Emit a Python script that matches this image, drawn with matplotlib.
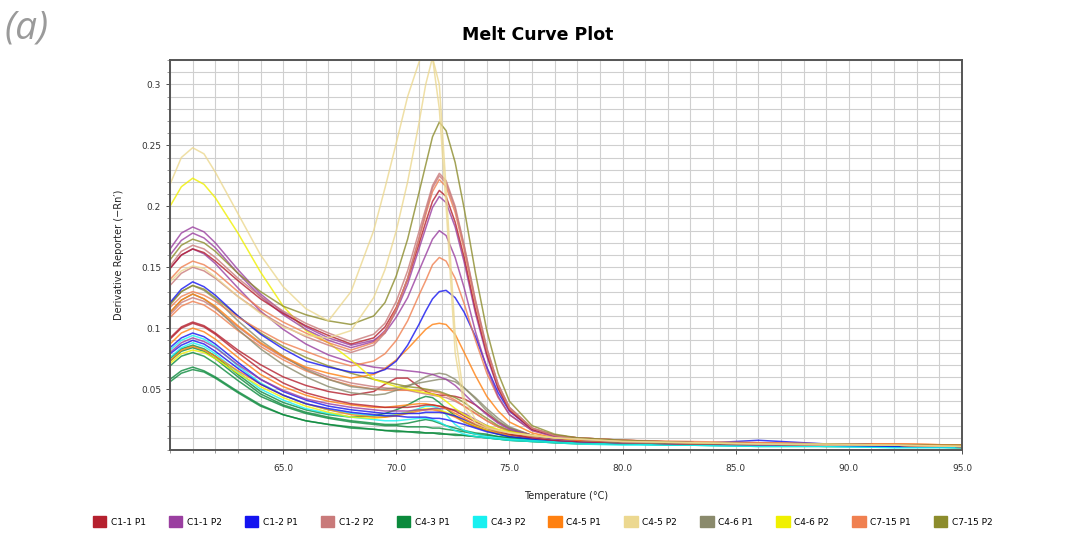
import matplotlib
matplotlib.use("Agg")
from matplotlib import pyplot as plt
from matplotlib.patches import Patch
from matplotlib.ticker import MultipleLocator, FixedLocator

temps = [60.0, 60.5, 61.0, 61.5, 62.0, 63.0, 64.0, 65.0, 66.0, 67.0, 68.0,
         69.0, 69.5, 70.0, 70.5, 71.0, 71.3, 71.6, 71.9, 72.2, 72.6, 73.0,
         73.5, 74.0, 74.5, 75.0, 76.0, 77.0, 78.0,
         80.0, 83.0, 86.0, 89.0, 92.0, 95.0]

samples = ["C1-1 P1", "C1-1 P2", "C1-2 P1", "C1-2 P2", "C4-3 P1", "C4-3 P2",
           "C4-5 P1", "C4-5 P2", "C4-6 P1", "C4-6 P2", "C7-15 P1", "C7-15 P2"]
sample_colors = ["#b5202e", "#9a3fa0", "#1414f0", "#c97a7a", "#0b8a3c", "#18f0f0",
                 "#ff8010", "#ecd890", "#8a8a6c", "#f0f000", "#f08050", "#8c8c2c"]

# melt curves, one list per well
k1 = [0.218, 0.240, 0.248, 0.243, 0.228, 0.194, 0.160, 0.134, 0.116, 0.106, 0.130,
      0.180, 0.215, 0.252, 0.290, 0.318, 0.332, 0.322, 0.280, 0.200, 0.080, 0.035,
      0.022, 0.018, 0.016, 0.014, 0.012, 0.010, 0.009,
      0.007, 0.006, 0.005, 0.005, 0.004, 0.003]
k2 = [0.138, 0.147, 0.151, 0.149, 0.142, 0.126, 0.112, 0.101, 0.094, 0.092, 0.098,
      0.125, 0.148, 0.180, 0.220, 0.268, 0.300, 0.322, 0.300, 0.215, 0.095, 0.042,
      0.025, 0.019, 0.016, 0.014, 0.012, 0.010, 0.009,
      0.007, 0.006, 0.005, 0.004, 0.004, 0.003]
y1 = [0.200, 0.216, 0.223, 0.218, 0.207, 0.178, 0.146, 0.118, 0.098, 0.088, 0.074,
      0.058, 0.055, 0.052, 0.050, 0.048, 0.047, 0.046, 0.044, 0.040, 0.034, 0.029,
      0.024, 0.020, 0.017, 0.015, 0.012, 0.010, 0.009,
      0.007, 0.006, 0.005, 0.005, 0.004, 0.003]
y2 = [0.071, 0.079, 0.082, 0.080, 0.075, 0.063, 0.052, 0.043, 0.036, 0.031, 0.027,
      0.026, 0.027, 0.029, 0.031, 0.033, 0.034, 0.034, 0.033, 0.031, 0.028, 0.024,
      0.020, 0.017, 0.014, 0.012, 0.010, 0.008, 0.007,
      0.006, 0.005, 0.005, 0.004, 0.004, 0.003]
o1 = [0.156, 0.168, 0.173, 0.170, 0.163, 0.145, 0.130, 0.118, 0.111, 0.106, 0.103,
      0.110, 0.121, 0.143, 0.173, 0.211, 0.234, 0.257, 0.269, 0.262, 0.236, 0.198,
      0.145, 0.098, 0.063, 0.040, 0.020, 0.013, 0.010,
      0.008, 0.006, 0.005, 0.005, 0.004, 0.004]
o2 = [0.120, 0.130, 0.135, 0.132, 0.125, 0.110, 0.096, 0.085, 0.076, 0.069, 0.063,
      0.058, 0.056, 0.054, 0.052, 0.051, 0.050, 0.049, 0.048, 0.046, 0.043, 0.039,
      0.032, 0.026, 0.020, 0.016, 0.012, 0.010, 0.008,
      0.007, 0.006, 0.005, 0.005, 0.004, 0.003]
r1 = [0.151, 0.163, 0.168, 0.165, 0.158, 0.141, 0.126, 0.114, 0.104, 0.096, 0.089,
      0.095, 0.104, 0.122, 0.147, 0.179, 0.198, 0.217, 0.227, 0.221, 0.200, 0.168,
      0.123, 0.084, 0.054, 0.035, 0.018, 0.012, 0.010,
      0.008, 0.006, 0.005, 0.005, 0.004, 0.003]
r4 = [0.135, 0.145, 0.150, 0.147, 0.141, 0.126, 0.113, 0.102, 0.093, 0.086, 0.080,
      0.086, 0.096, 0.115, 0.141, 0.174, 0.195, 0.215, 0.225, 0.219, 0.198, 0.167,
      0.122, 0.083, 0.054, 0.035, 0.018, 0.012, 0.010,
      0.008, 0.006, 0.005, 0.005, 0.004, 0.003]
r5 = [0.111, 0.121, 0.125, 0.122, 0.116, 0.101, 0.087, 0.076, 0.067, 0.060, 0.055,
      0.052, 0.051, 0.050, 0.049, 0.047, 0.046, 0.045, 0.044, 0.043, 0.040, 0.036,
      0.030, 0.024, 0.019, 0.015, 0.011, 0.009, 0.008,
      0.007, 0.006, 0.005, 0.005, 0.004, 0.003]
s1 = [0.117, 0.126, 0.130, 0.127, 0.122, 0.109, 0.098, 0.088, 0.081, 0.074, 0.069,
      0.073, 0.079, 0.090, 0.106, 0.127, 0.139, 0.152, 0.158, 0.155, 0.141, 0.120,
      0.090, 0.063, 0.043, 0.029, 0.016, 0.011, 0.009,
      0.007, 0.006, 0.005, 0.005, 0.004, 0.003]
s2 = [0.140, 0.150, 0.155, 0.152, 0.146, 0.130, 0.116, 0.105, 0.096, 0.088, 0.082,
      0.088, 0.097, 0.116, 0.141, 0.173, 0.193, 0.212, 0.222, 0.216, 0.195, 0.164,
      0.120, 0.082, 0.053, 0.034, 0.018, 0.012, 0.010,
      0.008, 0.006, 0.006, 0.005, 0.004, 0.004]
s3 = [0.109, 0.118, 0.122, 0.119, 0.113, 0.098, 0.085, 0.074, 0.065, 0.058, 0.053,
      0.050, 0.049, 0.049, 0.049, 0.049, 0.049, 0.048, 0.047, 0.045, 0.041, 0.036,
      0.030, 0.024, 0.019, 0.016, 0.012, 0.010, 0.009,
      0.008, 0.007, 0.006, 0.005, 0.005, 0.004]
d1 = [0.149, 0.160, 0.165, 0.162, 0.155, 0.139, 0.124, 0.112, 0.102, 0.094, 0.087,
      0.092, 0.101, 0.117, 0.140, 0.169, 0.187, 0.204, 0.213, 0.208, 0.187, 0.158,
      0.115, 0.079, 0.051, 0.033, 0.017, 0.012, 0.010,
      0.008, 0.006, 0.005, 0.005, 0.004, 0.003]
d2 = [0.092, 0.101, 0.105, 0.102, 0.096, 0.082, 0.070, 0.060, 0.053, 0.048, 0.045,
      0.048, 0.054, 0.059, 0.059, 0.052, 0.048, 0.046, 0.045, 0.045, 0.044, 0.042,
      0.037, 0.030, 0.023, 0.018, 0.012, 0.009, 0.008,
      0.007, 0.005, 0.005, 0.004, 0.004, 0.003]
d3 = [0.091, 0.100, 0.104, 0.101, 0.095, 0.080, 0.066, 0.055, 0.047, 0.042, 0.038,
      0.036, 0.035, 0.035, 0.035, 0.036, 0.037, 0.037, 0.036, 0.035, 0.032, 0.028,
      0.023, 0.019, 0.016, 0.013, 0.010, 0.008, 0.007,
      0.006, 0.005, 0.005, 0.004, 0.004, 0.003]
p1 = [0.165, 0.178, 0.183, 0.179, 0.170, 0.148, 0.128, 0.113, 0.101, 0.092, 0.086,
      0.090, 0.096, 0.109, 0.125, 0.147, 0.160, 0.173, 0.180, 0.176, 0.158, 0.133,
      0.097, 0.067, 0.044, 0.029, 0.016, 0.011, 0.009,
      0.007, 0.006, 0.005, 0.004, 0.004, 0.003]
p2 = [0.160, 0.172, 0.178, 0.174, 0.166, 0.145, 0.126, 0.111, 0.099, 0.090, 0.084,
      0.089, 0.098, 0.114, 0.136, 0.165, 0.182, 0.199, 0.208, 0.203, 0.183, 0.154,
      0.112, 0.077, 0.050, 0.032, 0.017, 0.012, 0.009,
      0.007, 0.006, 0.005, 0.005, 0.004, 0.003]
p3 = [0.080, 0.088, 0.092, 0.089, 0.084, 0.070, 0.058, 0.049, 0.042, 0.038, 0.035,
      0.033, 0.032, 0.032, 0.032, 0.033, 0.033, 0.034, 0.034, 0.034, 0.033, 0.030,
      0.025, 0.020, 0.016, 0.013, 0.010, 0.008, 0.007,
      0.006, 0.005, 0.004, 0.004, 0.004, 0.003]
p4 = [0.149, 0.160, 0.165, 0.161, 0.153, 0.133, 0.114, 0.099, 0.087, 0.078, 0.072,
      0.068, 0.067, 0.066, 0.065, 0.064, 0.063, 0.062, 0.060, 0.058, 0.053, 0.046,
      0.037, 0.029, 0.022, 0.017, 0.012, 0.009, 0.008,
      0.007, 0.006, 0.005, 0.005, 0.004, 0.003]
b1 = [0.121, 0.132, 0.138, 0.134, 0.127, 0.110, 0.095, 0.083, 0.073, 0.068, 0.064,
      0.063, 0.066, 0.073, 0.086, 0.103, 0.114, 0.124, 0.130, 0.131, 0.125, 0.113,
      0.093, 0.068, 0.047, 0.032, 0.017, 0.012, 0.009,
      0.007, 0.006, 0.005, 0.005, 0.004, 0.003]
b2 = [0.084, 0.092, 0.096, 0.093, 0.087, 0.072, 0.058, 0.048, 0.041, 0.036, 0.033,
      0.031, 0.030, 0.030, 0.030, 0.030, 0.031, 0.031, 0.031, 0.030, 0.028, 0.025,
      0.021, 0.018, 0.015, 0.013, 0.010, 0.008, 0.007,
      0.006, 0.005, 0.008, 0.005, 0.004, 0.003]
b3 = [0.079, 0.086, 0.090, 0.087, 0.081, 0.067, 0.054, 0.045, 0.038, 0.034, 0.031,
      0.029, 0.028, 0.028, 0.027, 0.027, 0.027, 0.026, 0.026, 0.025, 0.023, 0.021,
      0.018, 0.015, 0.013, 0.011, 0.009, 0.008, 0.007,
      0.006, 0.005, 0.005, 0.004, 0.003, 0.003]
a1 = [0.113, 0.123, 0.128, 0.124, 0.118, 0.102, 0.088, 0.077, 0.068, 0.063, 0.059,
      0.062, 0.067, 0.074, 0.083, 0.093, 0.099, 0.103, 0.104, 0.103, 0.095, 0.080,
      0.061, 0.044, 0.032, 0.023, 0.014, 0.010, 0.008,
      0.007, 0.006, 0.005, 0.005, 0.004, 0.003]
a2 = [0.087, 0.096, 0.100, 0.097, 0.091, 0.076, 0.062, 0.052, 0.045, 0.040, 0.037,
      0.035, 0.035, 0.036, 0.037, 0.038, 0.038, 0.037, 0.036, 0.034, 0.030, 0.026,
      0.021, 0.018, 0.015, 0.013, 0.011, 0.009, 0.008,
      0.007, 0.006, 0.005, 0.005, 0.005, 0.004]
a3 = [0.073, 0.082, 0.085, 0.082, 0.077, 0.065, 0.054, 0.045, 0.038, 0.033, 0.029,
      0.027, 0.027, 0.028, 0.030, 0.032, 0.033, 0.033, 0.032, 0.030, 0.027, 0.023,
      0.019, 0.016, 0.014, 0.012, 0.010, 0.009, 0.008,
      0.007, 0.006, 0.006, 0.005, 0.005, 0.004]
g1 = [0.113, 0.123, 0.128, 0.124, 0.117, 0.099, 0.083, 0.070, 0.060, 0.052, 0.047,
      0.045, 0.046, 0.049, 0.052, 0.057, 0.060, 0.062, 0.063, 0.062, 0.058, 0.051,
      0.042, 0.032, 0.024, 0.018, 0.012, 0.009, 0.008,
      0.007, 0.006, 0.005, 0.004, 0.004, 0.003]
g2 = [0.119, 0.130, 0.135, 0.131, 0.124, 0.106, 0.090, 0.077, 0.066, 0.058, 0.052,
      0.050, 0.050, 0.051, 0.053, 0.055, 0.056, 0.057, 0.058, 0.058, 0.056, 0.051,
      0.043, 0.034, 0.026, 0.019, 0.012, 0.009, 0.008,
      0.006, 0.005, 0.005, 0.004, 0.004, 0.003]
gr1 = [0.058, 0.065, 0.068, 0.065, 0.060, 0.048, 0.037, 0.029, 0.024, 0.021, 0.019,
       0.017, 0.016, 0.016, 0.015, 0.015, 0.014, 0.014, 0.014, 0.013, 0.013, 0.012,
       0.011, 0.010, 0.009, 0.008, 0.007, 0.006, 0.006,
       0.005, 0.004, 0.004, 0.003, 0.003, 0.002]
gr2 = [0.056, 0.063, 0.066, 0.064, 0.059, 0.047, 0.036, 0.029, 0.024, 0.021, 0.018,
       0.017, 0.016, 0.015, 0.015, 0.014, 0.014, 0.014, 0.013, 0.013, 0.012, 0.012,
       0.011, 0.010, 0.009, 0.008, 0.007, 0.006, 0.005,
       0.005, 0.004, 0.003, 0.003, 0.003, 0.002]
gr3 = [0.073, 0.081, 0.084, 0.081, 0.075, 0.060, 0.046, 0.037, 0.031, 0.027, 0.024,
       0.022, 0.021, 0.021, 0.022, 0.024, 0.025, 0.024, 0.022, 0.020, 0.018, 0.016,
       0.014, 0.013, 0.011, 0.010, 0.009, 0.008, 0.007,
       0.006, 0.005, 0.004, 0.004, 0.003, 0.003]
gr4 = [0.075, 0.083, 0.086, 0.083, 0.077, 0.062, 0.048, 0.039, 0.033, 0.029, 0.027,
       0.028, 0.030, 0.033, 0.037, 0.042, 0.044, 0.043, 0.039, 0.034, 0.028, 0.023,
       0.019, 0.016, 0.013, 0.011, 0.009, 0.008, 0.007,
       0.006, 0.005, 0.004, 0.004, 0.003, 0.003]
gr5 = [0.069, 0.077, 0.080, 0.077, 0.071, 0.057, 0.044, 0.036, 0.030, 0.026, 0.023,
       0.021, 0.020, 0.020, 0.019, 0.019, 0.019, 0.018, 0.018, 0.017, 0.016, 0.015,
       0.013, 0.012, 0.011, 0.010, 0.008, 0.007, 0.006,
       0.005, 0.004, 0.004, 0.003, 0.003, 0.002]
cy1 = [0.082, 0.090, 0.094, 0.091, 0.085, 0.069, 0.055, 0.045, 0.038, 0.033, 0.030,
       0.028, 0.028, 0.029, 0.031, 0.034, 0.036, 0.036, 0.034, 0.029, 0.021, 0.016,
       0.013, 0.011, 0.010, 0.009, 0.008, 0.007, 0.006,
       0.005, 0.004, 0.003, 0.003, 0.002, 0.002]
cy2 = [0.076, 0.084, 0.088, 0.085, 0.079, 0.064, 0.050, 0.041, 0.034, 0.030, 0.027,
       0.025, 0.024, 0.024, 0.025, 0.026, 0.026, 0.025, 0.023, 0.020, 0.016, 0.013,
       0.011, 0.010, 0.009, 0.008, 0.007, 0.006, 0.005,
       0.004, 0.004, 0.003, 0.003, 0.002, 0.002]

wells = [
	("C4-3 P1", gr1), ("C4-3 P1", gr2), ("C4-3 P1", gr5), ("C4-3 P1", gr3), ("C4-3 P1", gr4),
	("C4-3 P2", cy2), ("C4-3 P2", cy1), ("C4-6 P2", y2), ("C4-5 P1", a3),
	("C1-2 P1", b3), ("C1-2 P1", b2), ("C1-1 P2", p3), ("C4-5 P1", a2),
	("C1-1 P1", d3), ("C1-1 P1", d2), ("C1-2 P2", r5), ("C7-15 P1", s3),
	("C4-6 P1", g1), ("C4-6 P1", g2), ("C7-15 P2", o2), ("C1-1 P2", p4),
	("C4-5 P1", a1), ("C1-2 P1", b1), ("C7-15 P1", s1), ("C4-6 P2", y1),
	("C1-1 P2", p1), ("C1-1 P2", p2), ("C1-1 P1", d1), ("C7-15 P1", s2),
	("C1-2 P2", r4), ("C1-2 P2", r1), ("C7-15 P2", o1),
	("C4-5 P2", k2), ("C4-5 P2", k1),
]

color_of = dict(zip(samples, sample_colors))

fig = plt.figure(figsize=(10.81, 5.42), dpi=100)
ax = fig.add_axes([0.1573, 0.1697, 0.7326, 0.7196])

for sample, values in wells:
	ax.plot(temps, values, color=color_of[sample], linewidth=1.1, alpha=0.8)

ax.set_xlim(60, 95)
ax.set_ylim(0, 0.32)

ax.xaxis.set_major_locator(FixedLocator([65, 70, 75, 80, 85, 90, 95]))
ax.xaxis.set_minor_locator(MultipleLocator(1))
ax.set_xticklabels([f"{t:.1f}" for t in [65, 70, 75, 80, 85, 90, 95]])
ax.yaxis.set_major_locator(FixedLocator([0.05, 0.1, 0.15, 0.2, 0.25, 0.3]))
ax.yaxis.set_minor_locator(MultipleLocator(0.01))
ax.set_yticklabels(["0.05", "0.1", "0.15", "0.2", "0.25", "0.3"])

ax.grid(which="both", color="#cfcfcf", linewidth=0.8)
ax.set_axisbelow(True)
ax.tick_params(which="both", labelsize=6.5, colors="#333333", length=3, width=0.6)
ax.tick_params(axis="x", which="major", pad=7)
ax.tick_params(which="minor", length=2.5, color="#888888")
for spine in ax.spines.values():
	spine.set_color("#555555")
	spine.set_linewidth(1.4)

ax.set_xlabel("Temperature (°C)", fontsize=7, color="#222222", labelpad=13)
ax.set_ylabel("Derivative Reporter (\u2212Rn\u2032)", fontsize=7, color="#222222", labelpad=12)
fig.text(0.497, 0.935, "Melt Curve Plot", fontsize=12.5, fontweight="bold",
	ha="center", va="center")

fig.text(0.004, 0.948, "(a)", fontsize=28, color="#9a9a9a", style="italic",
	family=["Open Sans", "DejaVu Sans"], va="center", ha="left")

handles = [Patch(facecolor=c, edgecolor=c) for c in sample_colors]
fig.legend(handles, samples, loc="center", bbox_to_anchor=(0.502, 0.037), ncol=12,
	frameon=False, fontsize=6.5, handlelength=1.5, handleheight=1.5,
	handletextpad=0.5, columnspacing=2.55)

fig.savefig("out.png", dpi=100)
